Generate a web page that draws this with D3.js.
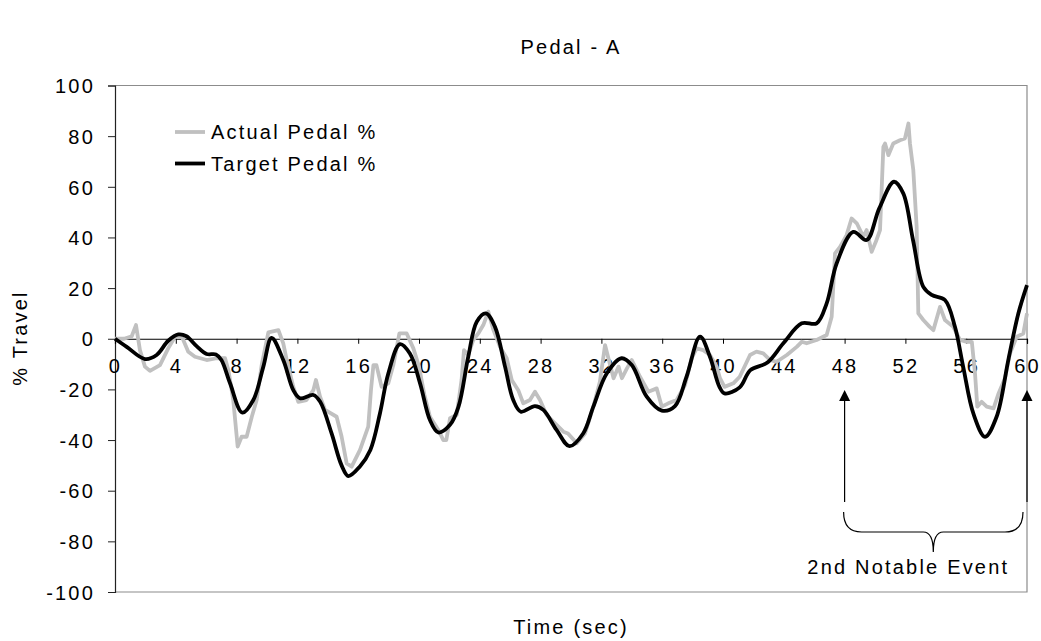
<!DOCTYPE html>
<html>
<head>
<meta charset="utf-8">
<script src="https://cdn.jsdelivr.net/npm/d3@7"></script>
<style>
  html, body { margin: 0; padding: 0; background: #fff; }
  svg { display: block; font-family: "Liberation Sans", Arial, sans-serif; }
</style>
</head>
<body>
<svg id="chart" width="1041" height="641"></svg>
<script>
// Time axis ticks (seconds) and % travel ticks
const xTicks = [0, 4, 8, 12, 16, 20, 24, 28, 32, 36, 40, 44, 48, 52, 56, 60];
const yTicks = [-100, -80, -60, -40, -20, 0, 20, 40, 60, 80, 100];

// Target pedal % (smooth command trace)
const targetTime = [0, 0.77, 1.97, 2.74, 3.5, 4.17, 4.7, 5.37, 6.03, 6.64, 7.0, 7.57, 8.38, 9.1, 9.76,
  10.3, 11.07, 11.73, 12.17, 13.05, 13.5, 14.25, 14.9, 15.35, 16.1, 16.8, 17.43, 17.98, 18.75, 19.4,
  20.07, 20.72, 21.27, 22.04, 22.6, 23.24, 23.8, 24.4, 25, 25.66, 26.2, 26.7, 27.63, 28.18, 29.05,
  29.9, 30.8, 31.47, 32.35, 33.33, 34, 34.98, 35.97, 36.84, 37.6, 38.49, 39.14, 39.76, 40.1, 41.1,
  41.8, 42.9, 43.97, 45.18, 46.16, 46.82, 47.48, 48.57, 49.45, 50.28, 51.25, 51.86, 52.5, 53.18,
  53.73, 54.6, 55.26, 55.8, 56.47, 57.24, 58, 58.77, 59.43, 60];
const targetPedal = [0, -3.2, -8.0, -6.4, -0.8, 1.7, 1, -2.9, -6, -6.2, -8.4, -17.6, -29.2, -24.2, -11,
  0.3, -8.4, -20.3, -23.5, -22.2, -24.9, -37.4, -49.9, -54.2, -50.5, -43.9, -29.5, -13.7, -2.1, -5.8,
  -17.6, -32.1, -37, -34, -26.8, -7.1, 6.7, 10, 4.7, -11, -24.2, -28.8, -26.6, -28.1, -36,
  -42.4, -37.4, -26.8, -13.7, -7.7, -10.4, -22.9, -28.4, -26.6, -15, 0.8, -7.1, -18.9, -21.6, -19.2,
  -12.4, -9.5, -1.8, 6.1, 6.1, 14, 29.8, 42.2, 39, 51.5, 62, 57.4, 39, 20.5,
  17.3, 15.3, 4.7, -11, -29.5, -38.7, -30.8, -8.4, 10, 21.2];

// Actual pedal % (measured trace)
const actualTime = [0, 0.6, 1.1, 1.38, 1.64, 1.97, 2.3, 2.96, 3.5, 3.95, 4.4, 4.82, 5.26, 6.03, 6.69,
  7.24, 7.46, 7.78, 8.07, 8.33, 8.66, 9.0, 9.32, 9.65, 10.09, 10.75, 11.07, 11.3, 11.73, 12.06, 12.6,
  13.05, 13.22, 13.49, 13.82, 14.58, 14.91, 15.24, 15.57, 16.12, 16.66, 16.84, 17.0, 17.2, 17.54,
  17.98, 18.31, 18.71, 19.19, 19.63, 20.0, 20.35, 20.72, 21.27, 21.6, 21.8, 22.04, 22.48, 22.8, 22.96,
  23.24, 23.57, 23.9, 24.23, 24.56, 24.9, 25.33, 25.77, 26.1, 26.53, 26.86, 27.3, 27.63, 27.96, 28.4,
  29.05, 29.5, 29.8, 30.38, 30.92, 31.47, 31.9, 32.24, 32.46, 32.8, 33.13, 33.35, 33.68, 34.0, 34.54,
  35.09, 35.64, 35.97, 36.4, 36.95, 37.5, 37.94, 38.27, 38.7, 39.14, 39.58, 39.8, 40.1, 40.68, 41.1,
  41.78, 42.2, 42.65, 43.1, 43.53, 44.2, 44.85, 45.18, 45.5, 46.16, 46.82, 47.15, 47.37, 47.7, 48.13,
  48.46, 48.8, 49.23, 49.45, 49.78, 50.1, 50.33, 50.55, 50.66, 50.88, 51.2, 51.64, 51.97, 52.2, 52.3,
  52.52, 52.74, 52.85, 53.18, 53.6, 53.84, 54.28, 54.6, 55.15, 55.6, 56.04, 56.37, 56.58, 56.73, 57.02,
  57.35, 57.8, 58.13, 58.55, 58.88, 59.32, 59.76, 60];
const actualPedal = [0, 0, 1, 5.4, -4.5, -11, -12.7, -10.4, -3.8, 0.8, 0.8, -5.1, -7.1, -8.4, -7.7,
  -7.7, -12.4, -24.2, -42.6, -38.7, -38.7, -30.8, -24.2, -10.4, 2.5, 3.4, -1.8, -8.4, -19, -24.9, -24.2,
  -20.3, -16.3, -22.9, -28.1, -30.8, -38.7, -49.2, -50.5, -43.9, -34.7, -20.3, -10.4, -10.4, -19,
  -17.6, -10.4, 2.1, 2.1, -3.8, -11, -22, -30.8, -36, -40, -40, -31.4, -30.1, -16.3, -4.5,
  -6.4, -0.5, 2.1, 5.4, 10.7, 3.4, -3.2, -7.7, -16.3, -20.3, -25.5, -24.2, -20.9, -24.2, -30.1,
  -34, -36.7, -37.4, -41.3, -37.4, -26.8, -17, -2.5, -7.7, -15.6, -11, -15.6, -11.7, -8.4, -15,
  -20.9, -19.6, -26.8, -25.5, -24.2, -18.3, -7.7, -3.8, -4.5, -6.4, -11, -15.6, -19, -17.6, -15,
  -6.4, -5.1, -5.8, -8.4, -9.1, -6.4, -3.2, -1.2, -1.8, -0.5, 1.5, 8.7, 33.7, 36.3, 40.9,
  47.5, 45.6, 40.3, 42.9, 34.3, 39, 42.9, 75.8, 77.1, 72.5, 77.1, 78.4, 79.1, 85, 77.1,
  66.6, 44.2, 10, 7.4, 4.7, 3.4, 12.6, 7.4, 4.7, -0.5, -1.2, -1.2, -13.7, -26.8, -24.9,
  -26.8, -27.5, -21.6, -15.6, -5.8, 0.8, 2.1, 10];

// Annotated event window (seconds)
const eventWindow = [48, 60];
const eventLabel = "2nd Notable Event";

const svg = d3.select("#chart");
const plot = { left: 115, right: 1027, top: 85.5, bottom: 592 };

const x = d3.scaleLinear().domain([0, 60]).range([plot.left, plot.right]);
const y = d3.scaleLinear().domain([-100, 100]).range([plot.bottom, plot.top]);

const textStyle = sel => sel.attr("fill", "#000").style("font-size", "20px").style("letter-spacing", "2.2px");

// Plot area frame (top, right, bottom)
svg.append("path")
  .attr("d", `M${plot.left},${plot.top}H${plot.right}V${plot.bottom}H${plot.left}`)
  .attr("fill", "none").attr("stroke", "#8c8c8c").attr("stroke-width", 1.2);

// Y axis
const yAxis = svg.append("g")
  .attr("transform", `translate(${plot.left},0)`)
  .call(d3.axisLeft(y).tickValues(yTicks).tickSize(7).tickPadding(13).tickFormat(d => String(d)));
yAxis.select(".domain").attr("stroke", "#222").attr("stroke-width", 1.2);
yAxis.selectAll(".tick line").attr("stroke", "#222");
yAxis.selectAll(".tick text").call(textStyle).attr("font-family", null).attr("font-size", null).attr("dy", "0.36em");

// X axis drawn along zero
const xAxis = svg.append("g")
  .attr("transform", `translate(0,${y(0)})`)
  .call(d3.axisBottom(x).tickValues(xTicks).tickSize(5).tickPadding(22).tickFormat(d => String(d)));
xAxis.select(".domain").attr("stroke", "#000").attr("stroke-width", 1.2);
xAxis.selectAll(".tick line").attr("stroke", "#000");
xAxis.selectAll(".tick text").call(textStyle).attr("font-family", null).attr("font-size", null).attr("dy", "0.35em");

// Series
const actual = actualTime.map((t, i) => [t, actualPedal[i]]);
const target = targetTime.map((t, i) => [t, targetPedal[i]]);

svg.append("path")
  .datum(actual)
  .attr("fill", "none").attr("stroke", "#c0c0c0").attr("stroke-width", 3.8)
  .attr("stroke-linejoin", "round")
  .attr("d", d3.line().x(d => x(d[0])).y(d => y(d[1])).curve(d3.curveLinear));

svg.append("path")
  .datum(target)
  .attr("fill", "none").attr("stroke", "#000").attr("stroke-width", 3.8)
  .attr("stroke-linejoin", "round")
  .attr("d", d3.line().x(d => x(d[0])).y(d => y(d[1])).curve(d3.curveCatmullRom.alpha(0.5)));

// Legend
const legend = [
  { name: "Actual Pedal %", color: "#c0c0c0", y: 132 },
  { name: "Target Pedal %", color: "#000", y: 163.5 }
];
const lg = svg.append("g");
legend.forEach(d => {
  lg.append("line").attr("x1", 175).attr("x2", 205).attr("y1", d.y).attr("y2", d.y)
    .attr("stroke", d.color).attr("stroke-width", 3.8);
  lg.append("text").attr("x", 211).attr("y", d.y).attr("dy", "0.36em").text(d.name).call(textStyle);
});

// Titles
svg.append("text").attr("x", 571).attr("y", 47).attr("dy", "0.36em").attr("text-anchor", "middle")
  .text("Pedal - A").call(textStyle);
svg.append("text").attr("x", 571).attr("y", 627).attr("dy", "0.36em").attr("text-anchor", "middle")
  .text("Time (sec)").call(textStyle);
svg.append("text").attr("transform", "translate(20,338) rotate(-90)").attr("dy", "0.36em")
  .attr("text-anchor", "middle").text("% Travel").call(textStyle);

// Event annotation: arrows up to the axis and a brace with label
const ann = svg.append("g");
eventWindow.forEach(t => {
  const cx = x(t);
  ann.append("line").attr("x1", cx).attr("x2", cx).attr("y1", 502).attr("y2", 398)
    .attr("stroke", "#000").attr("stroke-width", 1.2);
  ann.append("path").attr("d", `M${cx},390L${cx - 5.5},401L${cx + 5.5},401Z`).attr("fill", "#000");
});
const bx0 = x(eventWindow[0]) - 1, bx1 = x(eventWindow[1]) - 4, bm = (bx0 + bx1) / 2;
ann.append("path")
  .attr("d", `M${bx0},512 Q${bx0},532 ${bx0 + 18},532 L${bm - 10},532 Q${bm},532 ${bm},552 ` +
             `Q${bm},532 ${bm + 10},532 L${bx1 - 18},532 Q${bx1},532 ${bx1},512`)
  .attr("fill", "none").attr("stroke", "#000").attr("stroke-width", 1.2);
ann.append("text").attr("x", bm - 25).attr("y", 567).attr("dy", "0.36em").attr("text-anchor", "middle")
  .text(eventLabel).call(textStyle);
</script>
</body>
</html>
